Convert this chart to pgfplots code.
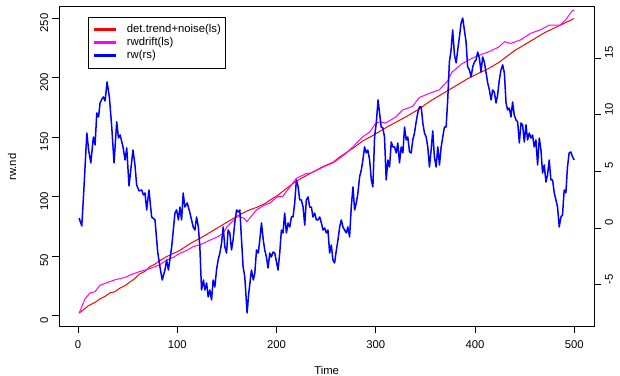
\documentclass[border=0pt]{standalone}
\usepackage{fontspec}
\setmainfont{Liberation Sans}
\usepackage{pgfplots}
\pgfplotsset{compat=1.18}
\definecolor{rred}{RGB}{255,0,0}
\definecolor{rmag}{RGB}{255,0,255}
\definecolor{rblue}{RGB}{0,0,255}
\begin{document}
\fontsize{11.3bp}{13bp}\selectfont
\begin{tikzpicture}
\useasboundingbox (0,0) rectangle (620bp,376bp);
\pgfplotsset{
  rbase/.style={
    at={(59.3bp,50bp)}, anchor=south west,
    scale only axis, width=534.7bp, height=320bp,
    xmin=-18.96, xmax=519.96,
    tick align=outside, major tick length=7bp,
    tick style={black, line width=0.8bp},
    axis line style={line width=0.8bp},
    /pgf/number format/assume math mode=true,
    ticklabel style={font=\fontsize{11.3bp}{13bp}\selectfont},
  }
}
\begin{axis}[rbase,
  ymin=-8.84, ymax=260.5,
  xtick={0,100,...,500}, ytick={0,50,...,250},
  xtick pos=bottom, ytick pos=left,
  xticklabel style={anchor=north, yshift=-4bp},
  yticklabel style={rotate=90, anchor=south, xshift=-4.5bp},
  xlabel={Time}, ylabel={rw.nd},
  xlabel style={at={(axis description cs:0.5,-0.139)}, anchor=center},
  ylabel style={at={(axis description cs:-0.0885,0.497)}, anchor=center},
]
\addplot[color=rred, line width=1bp] coordinates {
(1,2) (4,4) (7,6) (10,8) (12,9) (17,11) (22,14) (27,16) (32,19) (37,20) (42,23) (47,25)
(52,28) (57,31) (62,35) (67,37) (72,41) (77,43) (82,46) (88,49) (93,51) (98,53) (103,55)
(110,59) (116,62) (123,65) (133,70) (143,75) (153,80) (163,85) (173,89) (180,91) (188,94)
(195,98) (201,101) (210,107) (218,112) (226,116) (235,120) (246,125) (257,129) (263,133)
(270,137) (279,142) (287,147) (296,151) (304,155) (312,159) (321,163) (332,168) (344,174)
(354,180) (364,185) (374,190) (384,195) (394,200) (404,204) (414,208) (424,213) (432,218)
(440,223) (450,228) (460,233) (470,238) (480,242) (490,246) (500,250)
};
\addplot[color=rmag, line width=1bp] coordinates {
(1,2) (5,10) (7,14) (12,19) (17,20) (22,25.5) (27,27) (32,28.5) (37,30) (42,31) (49,32.5)
(52,34) (57,35.5) (62,37) (69,38.5) (77,41) (82,42.5) (89,46.5) (96,49) (103,52.5) (110,55)
(116,58) (123,59.5) (133,63.5) (140,66) (146,69) (150,74.5) (160,83) (163,83) (167,82)
(170,79) (175,84) (180,89) (188,93) (193,94.5) (201,100) (206,100) (215,110) (220,115.5)
(230,119.5) (235,120) (247,125) (257,128.5) (263,132) (270,136.5) (277,142) (287,150.5)
(294,154.5) (300,162) (304,163) (310,162) (320,167) (327,173) (337,176) (344,183.5)
(354,187) (364,190) (372,197) (377,205) (387,212) (397,216.5) (404,219) (414,222)
(424,226) (430,230.5) (436,229) (446,232) (456,237.5) (466,240.5) (475,244.5) (486,244.5)
(491,248.5) (498,256.5) (500,257)
};
\end{axis}
\begin{axis}[rbase,
  ymin=-8.65, ymax=19.59,
  hide x axis,
  axis y line*=right,
  ytick={-5,0,...,15},
  yticklabel style={rotate=90, anchor=north, xshift=5.5bp},
  legend style={at={(rel axis cs:0.0537,0.9656)}, anchor=north west,
    font=\fontsize{11.3bp}{13bp}\selectfont,
    inner xsep=4.5bp, inner ysep=7bp, row sep=2.5bp,
    nodes={inner sep=0pt, text height=8bp, text depth=2.5bp},
    /tikz/every odd column/.append style={column sep=10bp}},
  legend cell align=left,
  legend image code/.code={\draw[#1, line width=2.2bp] (0bp,0bp) -- (22bp,0bp);},
]
\addlegendimage{color=rred}
\addlegendentry{det.trend+noise(ls)}
\addlegendimage{color=rmag}
\addlegendentry{rwdrift(ls)}
\addlegendimage{color=rblue}
\addlegendentry{rw(rs)}
\addplot[color=rblue, line width=1.5bp, line join=round, forget plot] coordinates {
(1,0.88) (3.7,0.18) (5.5,2.91) (8.8,8.38) (10.6,6.88) (12.8,5.74) (15.4,8.03) (17.1,7.33)
(18.8,10.15) (20.6,9.80) (22.1,11.03) (24.1,11.39) (25.5,11.56) (27.2,11.21) (29.2,12.89)
(31.5,11.56) (33.9,8.91) (36.2,5.74) (38.9,9.36) (40.7,7.94) (42.3,8.21) (45.3,7.15)
(47.3,6.00) (49,7.06) (51.3,3.71) (55.3,6.88) (57.3,5.56) (59,3.80) (61.4,3.27) (64.1,3.35)
(65.9,2.91) (67.4,3.09) (69.1,1.59) (71.4,3.35) (74.1,0.97) (77.5,0.71) (80.2,-2.12)
(82.5,-3.44) (84.8,-4.59) (87.5,-3.71) (89.2,-2.82) (91,-3.71) (94.3,-1.68) (97.6,1.32)
(99.3,1.59) (101.1,0.71) (102.6,1.85) (104.3,0.71) (105.9,3.09) (107.6,1.85) (110,2.21)
(112.7,1.32) (116,0.09) (117.7,-0.18) (119.4,0.97) (121.2,0.09) (122.7,-1.68) (124.4,-5.47)
(126.3,-4.59) (127.8,-5.47) (129.5,-4.85) (131.1,-6.09) (132.8,-5.47) (134.5,-6.35)
(136.1,-4.59) (137.8,-5.21) (139.5,-3.71) (141.1,-2.82) (142.9,-2.21) (144.6,-1.32)
(146.2,0.09) (147.9,-1.68) (149.6,-2.21) (151.2,-0.18) (152.9,-0.44) (154.6,-1.94)
(156.2,-1.06) (157.9,0.44) (159.7,1.59) (161.5,1.41) (163,1.59) (164.7,-1.06) (166.3,-3.44)
(168,-4.32) (170.3,-7.50) (172,-5.74) (174.7,-3.71) (176.6,-4.59) (178.1,-3.97) (179.8,-1.94)
(181.6,-2.21) (183.1,-1.06) (184.8,0.44) (186.6,-1.06) (188.1,-1.94) (189.8,-2.56)
(191.4,-3.53) (193.2,-2.21) (194.7,-2.56) (196.5,-2.12) (198.2,-2.21) (201.5,-3.71)
(203.2,-2.21) (204.9,-0.18) (206.5,-0.44) (208.2,1.32) (209.9,-0.44) (211.6,0.44) (213.3,0.09)
(215,0.97) (216.6,0.97) (218.3,2.21) (220,4.24) (221.8,3.62) (223.3,2.47) (225,2.47)
(226.7,1.85) (228.4,0.26) (230,2.47) (231.7,2.74) (233.4,1.85) (235.1,1.85) (236.7,0.97)
(238.4,1.32) (240.1,0.71) (241.7,0.71) (243.5,0.97) (245.2,0.44) (246.8,-0.18) (248.5,0)
(250.2,-0.44) (251.8,-0.18) (253.5,-2.21) (255.2,-1.50) (256.8,-2.82) (258.5,-3.09)
(260.3,-1.94) (261.9,-1.06) (263.6,0.09) (265.3,0.71) (266.9,0.09) (268.6,-0.18) (270.3,-0.44)
(271.9,0.09) (273.6,-0.79) (275.3,1.85) (277,3.62) (278.7,1.59) (280.4,2.21) (282,3.09)
(283.7,4.50) (285.4,5.12) (287,6.00) (288.7,7.15) (290.4,6.62) (292,6.88) (293.8,6.00)
(295.5,4.24) (297.1,3.62) (298.8,8.03) (300.5,9.27) (302.3,11.30) (303.8,10.15) (305.5,8.91)
(307.1,8.83) (308.8,8.03) (310.5,4.24) (312.2,6.00) (313.9,5.38) (315.6,7.59) (317.2,7.15)
(318.9,7.15) (320.6,6.62) (322.2,7.50) (323.9,5.74) (325.6,7.15) (327.3,6.62) (329,8.91)
(330.7,7.77) (332.3,8.03) (334,6.71) (335.7,6.62) (337.3,7.77) (339,8.38) (340.7,9.36)
(342.3,10.15) (344,10.68) (345.8,10.68) (347.4,9.27) (349.1,8.38) (350.8,8.03) (352.4,7.15)
(354.1,5.38) (355.8,6.88) (357.4,8.56) (359.1,6.27) (360.8,5.38) (362.5,7.15) (364.2,5.56)
(365.9,7.15) (367.5,8.03) (369.2,8.91) (370.9,8.91) (372.5,11.30) (374.2,14.65) (375.9,15.71)
(377.5,17.48) (379.3,15.27) (381,14.56) (382.6,15.71) (384.3,16.86) (386,18.09) (387.6,18.53)
(389.3,17.48) (391,16.42) (392.6,14.21) (394.4,13.95) (396.1,13.33) (397.7,14.21) (399.4,14.65)
(401.1,14.83) (402.7,15.53) (404.4,15.00) (406.1,13.77) (407.7,15.09) (409.4,14.65)
(411.2,13.68) (412.8,12.80) (414.5,12.18) (416.2,11.30) (417.8,12.18) (419.5,12.00)
(421.2,11.03) (422.8,11.74) (424.5,13.06) (426.2,13.95) (427.9,14.39) (429.6,13.68)
(431.3,11.03) (432.9,10.41) (434.6,10.59) (436.3,9.80) (437.9,11.12) (439.6,9.97) (441.3,9.53)
(443,9.36) (444.7,7.50) (446.4,9.27) (448,9.09) (449.7,7.59) (451.4,9.09) (453,7.77) (454.7,8.38)
(456.4,7.94) (458,8.21) (459.7,7.15) (461.4,7.77) (463.1,5.56) (464.8,7.94) (466.5,6.88)
(468.1,4.85) (469.8,5.56) (471.5,4.06) (473.1,4.68) (474.8,6.00) (476.5,4.24) (478.2,4.24)
(479.9,3.09) (481.6,2.47) (483.2,1.85) (484.9,0.09) (486.6,0.97) (488.2,1.15) (489.9,3.35)
(491.6,3.09) (493.2,5.38) (494.9,6.62) (496.6,6.71) (498.3,6.27) (500,6.00)
};
\end{axis}
\end{tikzpicture}
\end{document}
